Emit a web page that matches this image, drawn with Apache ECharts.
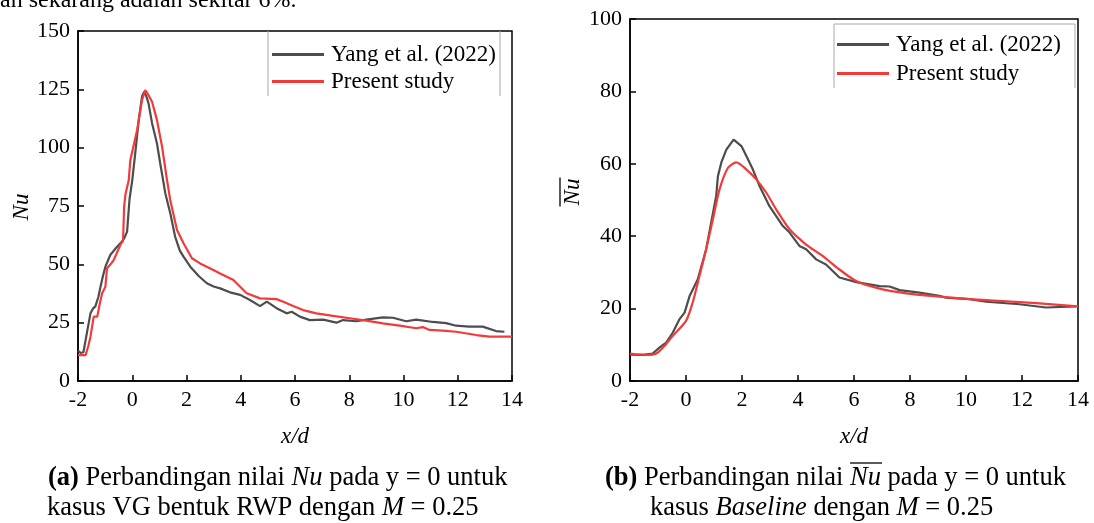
<!DOCTYPE html>
<html><head><meta charset="utf-8">
<script src="https://cdn.jsdelivr.net/npm/echarts@6/dist/echarts.min.js"></script>
<style>html,body{margin:0;padding:0;background:#fff}#c{width:1094px;height:523px}</style>
</head><body><div id="c"></div>
<script>
// ---------- data ----------
const seriesNames = ['Yang et al. (2022)', 'Present study'];
const xTickLabels = [-2, 0, 2, 4, 6, 8, 10, 12, 14];

// (a) local Nu, VG RWP, M = 0.25
const aYangX = [-2.0,-1.9,-1.8,-1.75,-1.65,-1.54,-1.45,-1.36,-1.25,-1.17,-1.08,-0.99,-0.81,-0.6,-0.44,-0.3,-0.19,-0.1,0.0,0.11,0.24,0.36,0.44,0.52,0.6,0.73,0.91,1.03,1.22,1.4,1.58,1.75,1.89,2.14,2.45,2.75,3.0,3.24,3.6,3.98,4.34,4.71,4.96,5.32,5.69,5.88,6.18,6.55,7.04,7.53,7.77,8.26,8.63,9.24,9.61,10.1,10.47,11.08,11.57,11.94,12.43,12.92,13.41,13.72];
const aYangY = [13,12,12.3,12.5,22,29,31,32,36,40.4,45,49,54,57,59,61,64,78,86,97.6,111.9,121.9,124,122,119,110.5,101.9,93.3,80.4,72,61.9,56,53.3,49,45,41.9,40.5,39.7,38,36.9,34.7,32.1,34,31.2,29,29.7,27.6,26.1,26.3,25,26.1,25.6,26.3,27.3,27.1,25.6,26.3,25.3,24.8,23.7,23.3,23.3,21.4,21.1];
const aPresX = [-2.0,-1.72,-1.62,-1.54,-1.42,-1.29,-1.2,-1.11,-0.99,-0.93,-0.8,-0.68,-0.44,-0.34,-0.3,-0.25,-0.13,-0.07,0.18,0.36,0.48,0.6,0.73,0.91,1.1,1.28,1.4,1.65,1.89,2.2,2.5,2.99,3.24,3.73,4.22,4.71,5.32,5.57,5.93,6.3,6.79,7.4,8.02,8.63,9.24,9.86,10.47,10.71,10.96,11.45,11.94,12.68,13.17,14.0];
const aPresY = [11.1,11.1,15,19,27.6,27.6,33,37.6,40.4,48.3,50,51.9,58.3,60,74.7,80,86,94.7,107.6,120.4,124.7,122.5,119.7,111.9,100.4,86.2,77.6,64.7,59,52.6,50.4,47.6,46.1,43.3,37.6,35.4,35.1,34,32.1,30.4,29,27.9,26.9,25.9,24.7,23.7,22.6,23.1,21.9,21.6,21.1,19.7,19,19];

// (b) averaged Nu, Baseline, M = 0.25
const bYangX = [-2,-1.54,-1.19,-0.95,-0.71,-0.47,-0.23,-0.05,0.13,0.42,0.72,0.9,1.08,1.14,1.26,1.44,1.7,1.98,2.16,2.39,2.63,2.98,3.46,3.7,4.05,4.29,4.65,5.0,5.48,6.08,6.91,7.27,7.63,8.34,9.05,9.29,10.13,10.72,11.91,12.86,13.94];
const bYangY = [7.3,7.2,7.6,9.2,10.6,13.4,17.1,18.9,23.5,28.1,36.4,43.8,51.2,56.6,60.3,63.9,66.7,64.9,62.1,58.4,53.8,48.3,42.8,41,37.3,36.4,33.6,32.2,28.6,27.3,26.2,26.1,25.1,24.4,23.5,23,22.6,21.9,21.2,20.3,20.6];
const bPresX = [-2,-1.42,-1.06,-0.77,-0.47,0.0,0.24,0.48,0.72,0.96,1.2,1.5,1.8,2.16,2.51,2.87,3.22,3.7,4.29,4.89,5.48,6.08,6.91,7.87,9.05,10.13,11.31,12.51,14];
const bPresY = [7.6,7.2,7.6,9.7,12.5,16.6,21.7,29,36.4,44.7,53,58.9,60.4,58.4,55.7,52,47.4,41.9,37.7,34.5,30.8,27.6,25.5,24.2,23.3,22.6,22.1,21.5,20.6];

// ---------- helpers ----------
const FF = '"Liberation Serif", "Times New Roman", serif';
const zip = (xs, ys) => xs.map((x, i) => [x, ys[i]]);
const tw = (t, font) => { const c = document.createElement('canvas').getContext('2d'); c.font = font; return c.measureText(t).width; };
const GRAY = '#4d4d4d', RED = '#f23a3a';
const CAP = 26.5;

function xAx(gi) {
  return {
    gridIndex: gi, type: 'value', min: -2, max: 14, interval: 2,
    name: 'x/d', nameLocation: 'middle', nameGap: 44,
    nameTextStyle: { fontFamily: FF, fontSize: 23, fontStyle: 'italic', color: '#000' },
    axisLine: { show: true, onZero: false, lineStyle: { color: '#000', width: 1.5 } },
    axisTick: { show: true, inside: true, length: 6, lineStyle: { color: '#000', width: 1.5 } },
    axisLabel: { fontFamily: FF, fontSize: 22, color: '#000', margin: 8,
      formatter: v => xTickLabels.includes(v) ? String(v) : '' },
    splitLine: { show: false }
  };
}
function yAx(gi, max, interval) {
  return {
    gridIndex: gi, type: 'value', min: 0, max: max, interval: interval,
    axisLine: { show: true, onZero: false, lineStyle: { color: '#000', width: 1.5 } },
    axisTick: { show: true, inside: true, length: 6, lineStyle: { color: '#000', width: 1.5 } },
    axisLabel: { fontFamily: FF, fontSize: 22, color: '#000', margin: 8 },
    splitLine: { show: false }
  };
}
function line(name, gi, data, color, smooth) {
  return { name, type: 'line', xAxisIndex: gi, yAxisIndex: gi, data, showSymbol: false,
    symbol: 'none', smooth: smooth || false, color,
    lineStyle: { color, width: 2.2 }, animation: false };
}
function legend(left, top, gap) {
  return { left, top, padding: 0, orient: 'vertical', icon: 'rect', itemWidth: 52, itemHeight: 3,
    itemGap: gap, data: seriesNames,
    textStyle: { fontFamily: FF, fontSize: 23, color: '#000', padding: [0, 0, 0, 2] } };
}

// caption overline position (b)
const FC = CAP + 'px ' + FF;
const capBx = 605;
const olX0 = capBx + tw('(b)', 'bold ' + FC) + tw(' Perbandingan nilai ', FC);
const olW = tw('Nu', 'italic ' + FC);
const yNameW = tw('Nu', 'italic 23px ' + FF);

const rich = {
  b: { fontFamily: FF, fontSize: CAP, fontWeight: 'bold', fill: '#000' },
  i: { fontFamily: FF, fontSize: CAP, fontStyle: 'italic', fill: '#000' }
};
function cap(x, y, text) {
  return { type: 'text', x, y, style: { text, rich, fontFamily: FF, fontSize: CAP, fill: '#000',
    verticalAlign: 'middle', align: 'left' } };
}

const chart = echarts.init(document.getElementById('c'), null, { renderer: 'canvas' });
chart.setOption({
  animation: false,
  grid: [
    { left: 78, top: 31, width: 434, height: 350, show: true, borderColor: '#000', borderWidth: 1.5, containLabel: false },
    { left: 630, top: 19, width: 448, height: 362, show: true, borderColor: '#000', borderWidth: 1.5, containLabel: false }
  ],
  xAxis: [xAx(0), xAx(1)],
  yAxis: [yAx(0, 150, 25), yAx(1, 100, 20)],
  legend: [legend(272, 43, 4), legend(837, 33, 6)],
  series: [
    line(seriesNames[0], 0, zip(aYangX, aYangY), GRAY),
    line(seriesNames[1], 0, zip(aPresX, aPresY), RED),
    line(seriesNames[0], 1, zip(bYangX, bYangY), GRAY),
    line(seriesNames[1], 1, zip(bPresX, bPresY), RED, 0.25)
  ],
  graphic: [
    { type: 'text', x: 0, y: 1, style: { text: 'an sekarang adalah sekitar 6%.', fontFamily: FF, fontSize: 24, fill: '#000', verticalAlign: 'middle' } },
    // legend frames
    { type: 'line', shape: { x1: 268, y1: 31, x2: 268, y2: 96 }, style: { stroke: '#aaa', lineWidth: 1 } },
    { type: 'line', shape: { x1: 500, y1: 31, x2: 500, y2: 96 }, style: { stroke: '#aaa', lineWidth: 1 } },
    { type: 'polyline', shape: { points: [[834, 88], [834, 24], [1075, 24], [1075, 88]] }, style: { stroke: '#aaa', lineWidth: 1, fill: null } },
    // y-axis names
    { type: 'text', x: 22, y: 207, rotation: Math.PI / 2, style: { text: 'Nu', fontFamily: FF, fontSize: 23, fontStyle: 'italic', fill: '#000', align: 'center', verticalAlign: 'middle' } },
    { type: 'text', x: 573, y: 192, rotation: Math.PI / 2, style: { text: 'Nu', fontFamily: FF, fontSize: 23, fontStyle: 'italic', fill: '#000', align: 'center', verticalAlign: 'middle' } },
    { type: 'line', shape: { x1: 560, y1: 192 - yNameW / 2 - 1, x2: 560, y2: 192 + yNameW / 2 + 1 }, style: { stroke: '#000', lineWidth: 1.3 } },
    // captions
    cap(48, 478, '{b|(a)} Perbandingan nilai {i|Nu} pada y = 0 untuk'),
    cap(47, 508, 'kasus VG bentuk RWP dengan {i|M} = 0.25'),
    cap(capBx, 478, '{b|(b)} Perbandingan nilai {i|Nu} pada y = 0 untuk'),
    cap(650, 508, 'kasus {i|Baseline} dengan {i|M} = 0.25'),
    { type: 'line', shape: { x1: olX0, y1: 463, x2: olX0 + olW + 1, y2: 463 }, style: { stroke: '#000', lineWidth: 1.3 } }
  ]
});
</script>
</body></html>
